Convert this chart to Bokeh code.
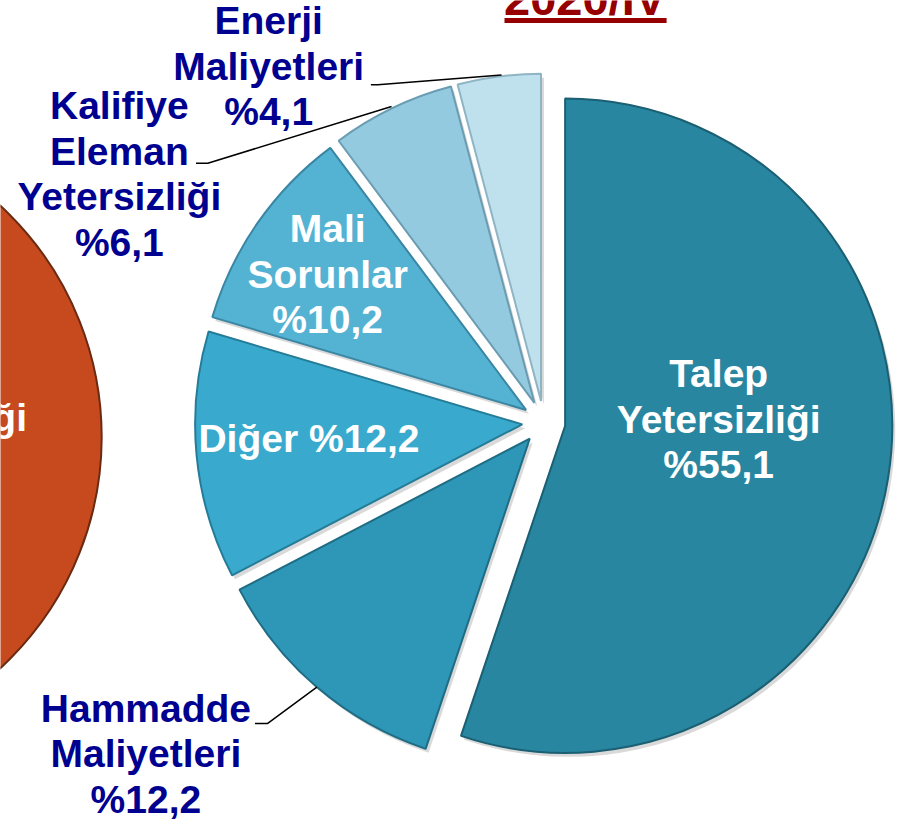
import math
from bokeh.plotting import figure
from bokeh.models import Range1d
from bokeh.core.properties import value
from bokeh.embed import file_html
from bokeh.resources import INLINE

# ---- data -------------------------------------------------------------
title_text = "2020/IV"
categories = ["Talep Yetersizliği", "Hammadde Maliyetleri", "Diğer",
              "Mali Sorunlar", "Kalifiye Eleman Yetersizliği", "Enerji Maliyetleri"]
shares = [55.1, 12.2, 12.2, 10.2, 6.1, 4.1]
label_texts = ["Talep\nYetersizliği\n%55,1",
               "Hammadde\nMaliyetleri\n%12,2",
               "Diğer %12,2",
               "Mali\nSorunlar\n%10,2",
               "Kalifiye\nEleman\nYetersizliği\n%6,1",
               "Enerji\nMaliyetleri\n%4,1"]
prev_label = "Yetersizliği"   # label of the neighbouring (previous) pie, cut off

# ---- styles / layout ---------------------------------------------------
colors = ["#2886A0", "#2E96B6", "#39AACE", "#54B2D3", "#94CAE0", "#BFE1EE"]
edge_colors = ["#1B5F73", "#1F6C85", "#257C98", "#3A86A3", "#6A9CB2", "#8FB4C4"]
label_inside = [True, False, True, True, False, False]
label_pos = [(731, 427), (148, 768), (314, 447), (333, 279), (121, 177), (273, 67)]
leaders = {1: [(259, 737), (272, 737), (322, 700)],
           4: [(199, 166), (211, 166), (398, 108)],
           5: [(377, 86), (384, 86), (510, 76)]}
CX, CY, R, EXPLODE = 553, 430, 333, 22
FONT = value("Liberation Sans")
FS = "39px"
LH = 1.06
NAVY = "#000090"


def Y(y):
    return 838 - y


p = figure(width=896, height=822, x_range=Range1d(0, 912), y_range=Range1d(0, 838),
           output_backend="svg", toolbar_location=None, min_border=0)
p.axis.visible = False
p.grid.visible = False
p.outline_line_color = None
p.background_fill_color = "white"
p.border_fill_color = "white"

# previous quarter's pie (only its right edge is visible)
p.circle(x=[-217], y=[Y(445)], radius=320, fill_color="#C64A1E",
         line_color="#6B2A12", line_width=2)
p.text(x=[27], y=[Y(425)], text=[prev_label], text_font=FONT, text_font_style="bold",
       text_font_size=FS, text_color="white", text_align="right", text_baseline="middle")

total = sum(shares)
acc = 0.0
wedges = []
for i, s in enumerate(shares):
    a0 = acc
    a1 = acc + s / total * 360.0
    acc = a1
    bis = math.radians(90 - (a0 + a1) / 2)
    cx = CX + EXPLODE * math.cos(bis)
    cy = Y(CY) + EXPLODE * math.sin(bis)
    wedges.append((cx, cy, math.radians(90 - a1), math.radians(90 - a0)))

# soft shadows
for (cx, cy, sa, ea) in wedges:
    p.wedge(x=[cx + 3], y=[cy - 4], radius=R, start_angle=sa, end_angle=ea,
            direction="anticlock", fill_color="#000000", fill_alpha=0.15, line_color=None)

for i, (cx, cy, sa, ea) in enumerate(wedges):
    p.wedge(x=[cx], y=[cy], radius=R, start_angle=sa, end_angle=ea,
            direction="anticlock", fill_color=colors[i], line_color=edge_colors[i],
            line_width=2)

for i, txt in enumerate(label_texts):
    lx, ly = label_pos[i]
    p.text(x=[lx], y=[Y(ly)], text=[txt], text_font=FONT, text_font_style="bold",
           text_font_size=FS, text_color="white" if label_inside[i] else NAVY,
           text_align="center", text_baseline="middle", text_line_height=LH)

for i, pts in leaders.items():
    p.line(x=[q[0] for q in pts], y=[Y(q[1]) for q in pts], line_color="black", line_width=1.5)

# title (cut off at top)
p.text(x=[595], y=[Y(-2)], text=[title_text], text_font=FONT, text_font_style="bold",
       text_font_size="47px", text_color="#960000", text_align="center",
       text_baseline="middle")
p.line(x=[513, 678], y=[Y(20.5), Y(20.5)], line_color="#960000", line_width=5)

open("out.html", "w").write(file_html(p, INLINE))
